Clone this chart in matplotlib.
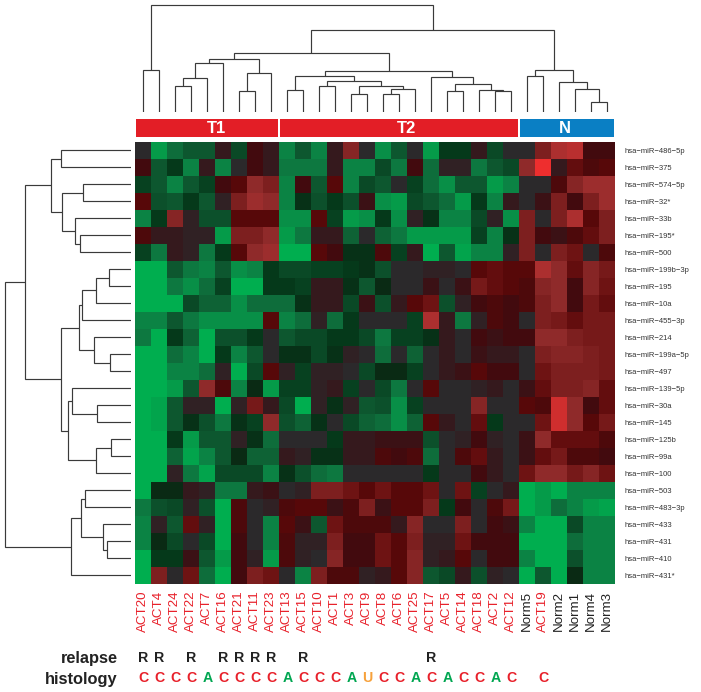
import numpy as np
import matplotlib
matplotlib.use("Agg")
import matplotlib.pyplot as plt
from matplotlib.colors import LinearSegmentedColormap

plt.rcParams["font.family"] = ["Liberation Sans", "DejaVu Sans"]

samples = ["ACT20", "ACT4", "ACT24", "ACT22", "ACT7", "ACT16", "ACT21", "ACT11", "ACT23",
           "ACT13", "ACT15", "ACT10", "ACT1", "ACT3", "ACT9", "ACT8", "ACT6", "ACT25",
           "ACT17", "ACT5", "ACT14", "ACT18", "ACT2", "ACT12",
           "Norm5", "ACT19", "Norm2", "Norm1", "Norm4", "Norm3"]

mirnas = ["hsa\u2212miR\u2212486\u22125p", "hsa\u2212miR\u2212375", "hsa\u2212miR\u2212574\u22125p",
          "hsa\u2212miR\u221232*", "hsa\u2212miR\u221233b", "hsa\u2212miR\u2212195*",
          "hsa\u2212miR\u2212500", "hsa\u2212miR\u2212199b\u22123p", "hsa\u2212miR\u2212195",
          "hsa\u2212miR\u221210a", "hsa\u2212miR\u2212455\u22123p", "hsa\u2212miR\u2212214",
          "hsa\u2212miR\u2212199a\u22125p", "hsa\u2212miR\u2212497", "hsa\u2212miR\u2212139\u22125p",
          "hsa\u2212miR\u221230a", "hsa\u2212miR\u2212145", "hsa\u2212miR\u2212125b",
          "hsa\u2212miR\u221299a", "hsa\u2212miR\u2212100", "hsa\u2212miR\u2212503",
          "hsa\u2212miR\u2212483\u22123p", "hsa\u2212miR\u2212433", "hsa\u2212miR\u2212431",
          "hsa\u2212miR\u2212410", "hsa\u2212miR\u2212431*"]

expr = [
    [0, -7, -5, -4, -4, 1, -3, 2, 1, -6, -4, -6, 1, 5.5, 0, -6.5, -4, 0, -7, -2, -2, 1, -3, 0, 0, 5, 7, 7.2, 2, 2],
    [2, -4, -2, -6, 1, -6, 0, 2, 1, -5.5, -5.5, -5.5, 1, -6, -6, -3, -5.5, 2, -5, 0.5, 0.5, -5.5, -4, -3, 6, 8, 1, 3.5, 2.5, 3],
    [-2.5, -4, -6, -4, -2.5, 2, 3, 6, 5, -6, 2, -4, 3, -6, -3, -4, 0, -2.5, -5, -6.5, -4, -4, -7, -6, 0, 0, 2.5, 5.5, 6.5, 6.5],
    [3, -3.5, -4, -2, -4, 0.5, 5, 6.5, 6, -6, -1.5, -3.5, -2, -3.5, 1.5, -6.5, -7, -3, -4, -5, -7, -2, -6, 1, 0, 1.5, 5, 2, 5, 6.5],
    [-6, -2, 5.5, 0.5, -3.5, -3.5, 3, 3, 3, -6.5, -6.5, 3, -2.5, -7, -6.5, -2, -6.5, 0.5, -1.5, -6, -6, -3, 0.5, -6.5, 5, 0, 5, 7, 3, 5],
    [2.5, 1, 1, 0.5, 0.5, -7, 5, 5, 6, -7, -5.5, 1, 1, -4.5, 0, -4.5, -5.5, -7, -7, -7, -7, -2.5, -6, -1.5, 5, 2, 1.5, 2.5, 3.5, 5],
    [-2.5, -5.5, 1, 0.5, -5.5, -2, 3, 6, 6.5, -8, -8, 3, 2, -1.5, -1.5, 2.5, -2.5, 1, -8, -4, -7.5, -6, -6, 0.5, 5, 0, 5, 4, 0, 2.5],
    [-8, -8, -4, -5.5, -6, -4, -6.5, -6, -2, -3, -3, -2.5, -2.5, -2, -1.5, -3.5, 0, 0, 0.5, 0.5, 0, 3, 3.5, 3, 3, 7, 6, 3.5, 5.5, 4.5],
    [-8, -8, -5.5, -6.5, -5, -2.5, -8, -8, -2, -2, -2.5, 1, 1, -1.5, -4, -1, 0, 0, 1.5, 0, 1.5, 4.5, 3.5, 3, 2.5, 5.5, 6, 2, 5.5, 4],
    [-8, -8, -8, -3, -4.5, -4.5, -6.5, -5, -5, -5, -1.5, 1, 1, -3, 1.5, -3.5, 1, 3, 4, -3.5, 0.5, 2, 2.5, 2, 2.5, 5, 6, 2, 4.5, 3.5],
    [-6, -6, -4, -5.5, -6.5, -6.5, -6.5, -6.5, 3, -6, -5, 0.5, -5, -2, 0, 0, 0, -2.5, 7, 1, -5.5, 0.5, 2.5, 2, 0, 5, 4.5, 3.5, 4.5, 4.5],
    [-5.5, -8, -2, -4.5, -8, -3.5, -3.5, -2, 0, -4, -3, -3, -2, -2, -3, -5.5, -2.5, -2.5, -1.5, 1, 0, 2, 1.5, 2, 2, 6, 6, 5, 4.5, 4.5],
    [-8, -8, -5, -6, -8, -2, -6, -4, 0, -1.5, -1.5, -3, -1.5, 0.5, 0, -5, 0, -4.5, 0, 1, 0, 1.5, 1, 1, 0, 5, 5.5, 5.5, 5, 4.5],
    [-8, -8, -6, -6, -5, 0.5, -8, -3, 3, 0.5, -2.5, 0.5, 0.5, 0, -3, -1, -1, -2.5, 0, 1, 1.5, 3, 2, 2, 0, 4, 5, 5, 5, 4.5],
    [-8, -8, -7, -4, 6, 2.5, -6, -1, -7, -2.5, -2.5, 0.5, 1, -2.5, 0, -3, -5.5, 0, 3, 0, 0, 0.5, 1, 0, 1.5, 3.5, 5, 5, 5.5, 3.5],
    [-8, -7.5, -4, 0.5, 0.5, -8, 0.5, 4.5, 1, -3, -8, 0.5, -1.5, 0.5, -4, -3.5, -6.5, -2.5, 0, 0, 0, 5.5, 0, 0, 3, 2.5, 7.5, 6, 2, 3.5],
    [-8, -7.5, -4, -1.5, -3.5, -5.5, -1.5, -2.5, 6, -3.5, -4.5, -1.5, 0, -3, -4.5, -5, -6.5, -4.5, 3, 1, 0, 3.5, -2, 0, 0, 4, 7.5, 6, 3, 4.5],
    [-8, -8, -2, -7, -4, -4, 0.5, -1.5, -5, 0, 0, 0, -2, 1, 1, 1.5, 1.5, 1.5, -3.5, 0, 0.5, 2, 0.5, 0, 1.5, 6, 3.5, 3.5, 3.5, 2.5],
    [-8, -8, -4.5, -7.5, -6, -4, -1, -4.5, -4.5, 1, 0.5, -1.5, -1.5, 1, 1, 2.5, 2, 2.5, -5, 0, 2.5, 3.5, 1, 0, 1.5, 3.5, 4.5, 2.5, 2.5, 2],
    [-8, -8, 0.5, -5.5, -7.5, -3, -3, -3, -6, -1.5, -3.5, -5, -5.5, 0, 0, 0, 0, 0, -2, 0, 0, 2, 1, 0, 4, 6, 6, 4.5, 5.5, 4],
    [-8, -1, -1, 1, 0.5, -5.5, -5.5, 1, 1.5, 0, 0.5, 5, 5, 4, 3, 4, 3, 3, 4, 0, 4, -2.5, 0, 1, -8, -7, -8, -6, -6, -6],
    [-5.5, -3.5, -3, 0.5, -3.5, -8, 2.5, 0, 0.5, 2.5, 3, 3, 1.5, 2.5, 5, 1.5, 3, 3, 5, -2, 2, 0, 2.5, 4.5, -8, -7, -5, -6, -7, -7.5],
    [-6, 0.5, -4, 3.5, 0.5, -8, 2.5, 0, -6, 3, 1.5, -4, 4, 2.5, 2.5, 2.5, 1, 5.5, 0, 0, 5, 0, 2, 1.5, -6, -8, -8, -3, -6, -6],
    [-6, -1, -3, 0, -3, -8, 2, 0, -6, 2.5, 0.5, 0.5, 5, 2, 2, 4, 3, 5, 0.5, 0.5, 4, 2, 2, 2, -8, -8, -8, -5, -6, -6],
    [-8, -2, -2, 1.5, -4, -7, 2, 0.5, -7, 2.5, 0.5, 0, 5.5, 2, 2, 4, 3, 5.5, 0.5, 1, 3, 0, 2, 2, -6, -8, -8, -3.5, -6, -6],
    [-8, 5, 0, 4, -5, -8, 2, 5, 4, 0, -6, 5, 2.5, 2.5, 0.5, 1, 3, 5.5, -4, -3, 1, -3.5, 0.5, 0, -8, -4, -8, -1, -6, -6],
]

group_names = ["T1", "T2", "N"]
group_sizes = [9, 15, 6]
group_colors = ["#e31e26", "#e31e26", "#0a7fc4"]

relapse = ["R", "R", "", "R", "", "R", "R", "R", "R", "", "R", "", "", "", "", "", "", "", "R",
           "", "", "", "", "", "", "", "", "", "", ""]
histology = ["C", "C", "C", "C", "A", "C", "C", "C", "C", "A", "C", "C", "C", "A", "U", "C", "C", "A",
             "C", "A", "C", "C", "A", "C", "", "C", "", "", "", ""]
hist_colors = {"C": "#e8212b", "A": "#00a651", "U": "#f7a13b"}

# merges: left child, right child, height. new nodes are numbered after the leaves
col_left = [0, 2, 31, 32, 6, 34, 33, 9, 11, 13, 15, 40, 39, 38, 37, 19, 22, 21, 45, 18, 44, 36, 24, 28, 27, 26, 52, 51, 30]
col_right = [1, 3, 4, 5, 7, 8, 35, 10, 12, 14, 16, 17, 41, 42, 43, 20, 23, 46, 47, 48, 49, 50, 25, 29, 53, 54, 55, 56, 57]
col_height = [41.3, 25.7, 34, 48.3, 21, 39, 53, 21.3, 25.3, 17.3, 17.3, 22.3, 25.3, 31, 36, 20.7, 21, 22, 28, 34.3,
              40.7, 58.3, 35.3, 10, 22.3, 29.3, 41.3, 81.7, 106.7]

row_left = [0, 2, 5, 4, 27, 26, 7, 32, 33, 12, 11, 34, 15, 14, 17, 40, 39, 37, 31, 20, 23, 22, 45, 48, 44]
row_right = [1, 3, 6, 28, 29, 30, 8, 9, 10, 13, 35, 36, 16, 38, 18, 19, 41, 42, 43, 21, 24, 46, 47, 25, 49]
row_height = [69.7, 47.7, 50.3, 55.7, 68.3, 80, 22, 35, 48.3, 21, 36.7, 51.3, 33.3, 58.7, 19.3, 34.7, 62.3, 70, 106,
              45.7, 23.7, 27.3, 50, 59.3, 125.7]

W, H = 701, 692
x0, x1, y0, y1 = 135.3, 615.3, 141.7, 583.7


def draw_dendro(ax, left, right, height, n_leaves, horizontal=False):
    pos = {i: i + 0.5 for i in range(n_leaves)}
    top = {i: 0.0 for i in range(n_leaves)}
    for k, (a, b, h) in enumerate(zip(left, right, height)):
        xs = [pos[a], pos[a], pos[b], pos[b]]
        ys = [top[a], h, h, top[b]]
        if horizontal:
            xs, ys = ys, xs
        ax.plot(xs, ys, color="#3a3a3a", lw=0.85, solid_joinstyle="miter", solid_capstyle="butt")
        pos[n_leaves + k] = (pos[a] + pos[b]) / 2
        top[n_leaves + k] = h
    ax.axis("off")


def px_axes(fig, left, top, right, bottom):
    return fig.add_axes([left / W, 1 - bottom / H, (right - left) / W, (bottom - top) / H])


def main():
    fig = plt.figure(figsize=(W / 100, H / 100), dpi=100)

    cmap = LinearSegmentedColormap.from_list("gbr", [
        "#00ae4f", "#059c4a", "#0b8445", "#0f6e3c", "#0e5830", "#0b4a27", "#053a1b", "#0a2a14",
        "#2b2a2c",
        "#351a1e", "#420b0f", "#570809", "#6e1313", "#7d1f1f", "#8e2a2a", "#a83030", "#ee2e2e"])

    ax = px_axes(fig, x0, y0, x1, y1)
    ax.imshow(np.array(expr), cmap=cmap, vmin=-8, vmax=8, aspect="auto", interpolation="nearest",
              extent=(0, len(samples), len(mirnas), 0))
    for s in ax.spines.values():
        s.set_visible(False)

    ax.set_xticks(np.arange(len(samples)) + 0.5)
    ax.set_xticklabels(samples, rotation=90, fontsize=9.6, va="top", ha="center")
    for lab in ax.get_xticklabels():
        lab.set_color("#222222" if lab.get_text().startswith("Norm") else "#e8212b")
    ax.yaxis.tick_right()
    ax.set_yticks(np.arange(len(mirnas)) + 0.5)
    ax.set_yticklabels(mirnas, fontsize=5.5, color="#333333")
    ax.tick_params(axis="x", length=0, pad=5)
    ax.tick_params(axis="y", length=0, pad=6.5)

    # annotation rows under the heatmap
    trans = ax.get_xaxis_transform()
    for i, (r, c) in enumerate(zip(relapse, histology)):
        if r:
            ax.text(i + 0.5, -74.6 / (y1 - y0), r, transform=trans, ha="center", va="center",
                    fontsize=10.2, fontweight="bold", color="#222222")
        if c:
            ax.text(i + 0.5, -94.6 / (y1 - y0), c, transform=trans, ha="center", va="center",
                    fontsize=10.2, fontweight="bold", color=hist_colors[c])
    fig.text(118 / W, 1 - 663.3 / H, "relapse", ha="right", va="baseline", fontsize=11.8, fontweight="bold", color="#222222")
    fig.text(118 / W, 1 - 684 / H, "histology", ha="right", va="baseline", fontsize=11.8, fontweight="bold", color="#222222")

    # sample group bar, the names sit off centre in the original
    bar = px_axes(fig, x0, 119.3, x1, 136.7)
    bar.set_xlim(0, len(samples))
    bar.set_ylim(0, 1)
    start = 0
    for name, size, color, shift in zip(group_names, group_sizes, group_colors, [0.6, 0.45, -0.15]):
        bar.barh(0.5, size - 0.12, left=start + 0.06, height=1, color=color)
        bar.text(start + size / 2 + shift, 0.47, name, ha="center", va="center", color="white", fontsize=12, fontweight="bold")
        start += size
    bar.axis("off")

    top = px_axes(fig, x0, 0, x1, 111.7)
    top.set_xlim(0, len(samples))
    top.set_ylim(0, 111.7)
    draw_dendro(top, col_left, col_right, col_height, len(samples))

    side = px_axes(fig, 0, y0, 130.7, y1)
    side.set_xlim(130.7, 0)
    side.set_ylim(len(mirnas), 0)
    draw_dendro(side, row_left, row_right, row_height, len(mirnas), horizontal=True)

    fig.savefig("out.png", dpi=100)


if __name__ == "__main__":
    main()
